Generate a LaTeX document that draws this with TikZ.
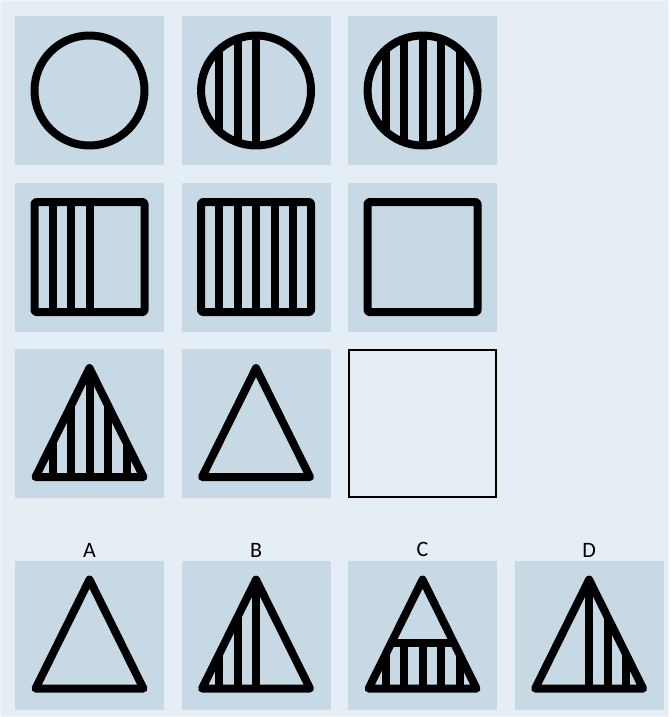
\documentclass[tikz,border=0pt]{standalone}
\usepackage{fontspec}
\setmainfont{Carlito}
\usetikzlibrary{positioning}
\definecolor{bgblue}{RGB}{229,237,245}
\definecolor{panelblue}{RGB}{200,217,230}
\definecolor{rimblue}{RGB}{241,245,250}
\tikzset{
  panel/.style    = {fill=panelblue, inner sep=0pt,
                     minimum width=111.75pt, minimum height=111.75pt},
  blank/.style    = {draw=black, line width=1.2pt, fill=bgblue, inner sep=0pt,
                     minimum width=110.5pt, minimum height=110.25pt},
  % outlines and hatching share one stroke width
  figline/.style  = {line width=6pt, line join=round},
  stripe/.style   = {line width=6pt},
  optlabel/.style = {font=\fontsize{16.5}{19}\selectfont, inner sep=0pt},
}
% #1 panel, #2 stripe offsets
\newcommand{\ringfig}[2]{%
  \begin{scope}[shift={(#1.center)}]
    \begin{scope}
      \clip (0,0) circle[radius=55];
      \ifx&#2&\else\foreach \dx in {#2} \draw[stripe] (\dx,-60) -- (\dx,60);\fi
    \end{scope}
    \draw[figline] (0,0) circle[radius=55];
  \end{scope}
}
\newcommand{\boxfig}[2]{%
  \begin{scope}[shift={(#1.center)}]
    \ifx&#2&\else\foreach \dx in {#2} \draw[stripe] (\dx,-55) -- (\dx,55);\fi
    \draw[figline, rounded corners=1.5pt] (-55,-55) rectangle (55,55);
  \end{scope}
}
% #3 top of the stripes, #4 cross bar (empty: none)
\newcommand{\trifig}[4]{%
  \begin{scope}[shift={(#1.center)}]
    \begin{scope}
      \clip (0,-55.5) -- (54,53.5) -- (-54,53.5) -- cycle;
      \ifx&#2&\else\foreach \dx in {#2} \draw[stripe] (\dx,#3) -- (\dx,60);\fi
      \ifx&#4&\else\draw[stripe] (-60,#4) -- (60,#4);\fi
    \end{scope}
    \draw[figline] (0,-55.5) -- (54,53.5) -- (-54,53.5) -- cycle;
  \end{scope}
}

\begin{document}
\begin{tikzpicture}[x=0.75pt, y=-0.75pt]

\fill[bgblue] (0,0) rectangle (669,717);
\draw[rimblue, line width=0.75pt] (0.5,0.5) rectangle (668.5,716.5);

% ===== Matrix panels =====
\node[panel] (p11) at (89.5,90.5) {};
\node[panel, right=12.75pt of p11] (p12) {};
\node[panel, right=12.75pt of p12] (p13) {};
\node[panel, below=12.75pt of p11] (p21) {};
\node[panel, right=12.75pt of p21] (p22) {};
\node[panel, right=12.75pt of p22] (p23) {};
\node[panel, below=12.75pt of p21] (p31) {};
\node[panel, right=12.75pt of p31] (p32) {};
\node[blank] (p33) at (p23 |- p32) {};

% ===== Answer panels =====
\node[panel, below=46.5pt of p31] (aA) {};
\node[panel, right=12.75pt of aA] (aB) {};
\node[panel, right=12.75pt of aB] (aC) {};
\node[panel, right=12.75pt of aC] (aD) {};
\node[optlabel, above=2.25pt of aA] (lA) {A};
\node[optlabel, above=2.25pt of aB] (lB) {B};
\node[optlabel, above=2.25pt of aC] (lC) {C};
\node[optlabel, above=2.25pt of aD] (lD) {D};

% ===== Figures =====
\ringfig{p11}{}
\ringfig{p12}{-37,-18.5,0}
\ringfig{p13}{-37,-18.5,0,18.5,37}
\boxfig{p21}{-37,-18.5,0}
\boxfig{p22}{-37,-18.5,0,18.5,37}
\boxfig{p23}{}
\trifig{p31}{-37,-18.5,0,18.5,37}{-60}{}
\trifig{p32}{}{-60}{}

\trifig{aA}{}{-60}{}
\trifig{aB}{-37,-18.5,0}{-60}{}
\trifig{aC}{-37,-18.5,0,18.5,37}{8}{8}
\trifig{aD}{0,18.5,37}{-60}{}

\end{tikzpicture}
\end{document}
